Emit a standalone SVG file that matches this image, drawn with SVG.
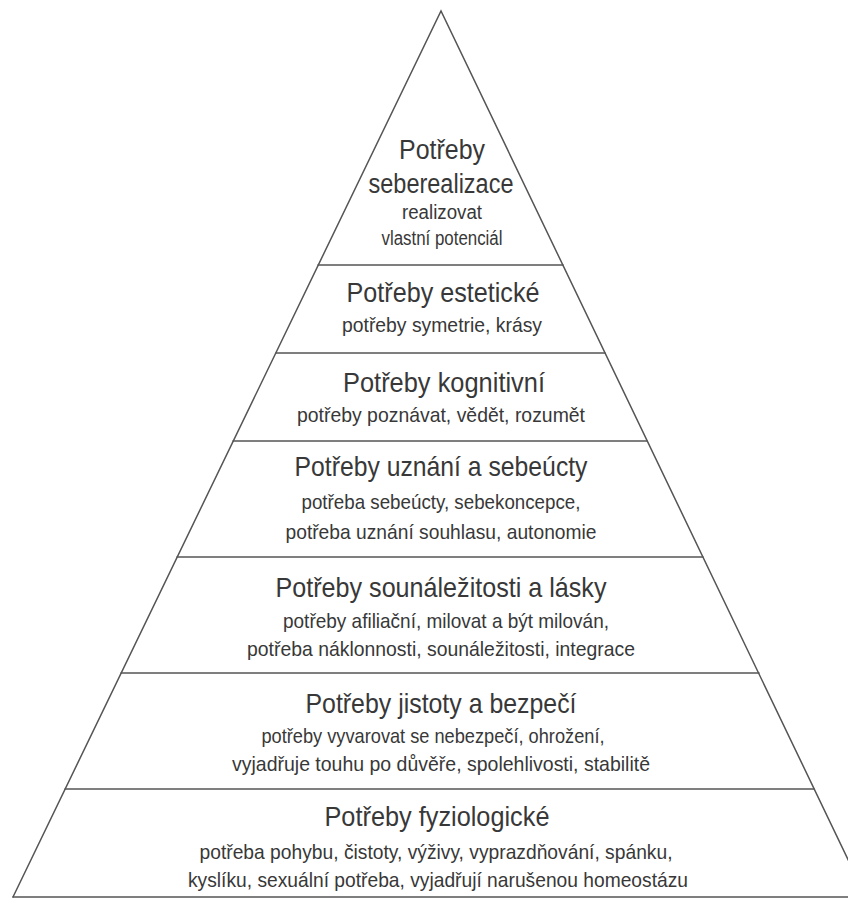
<svg xmlns="http://www.w3.org/2000/svg" width="848" height="899" viewBox="0 0 848 899">
<style>
.ln{stroke:#555;stroke-width:1.5;fill:none;stroke-linecap:round}
text{font-family:"Liberation Sans",Arial,sans-serif;fill:#383838;text-anchor:middle}
.t{font-size:28px}
.s{font-size:21px}
.tt{font-size:27px}
.ss{font-size:20px}
</style>
<rect width="848" height="899" fill="#fff"/>
<g id="pyramid-outline">
<path class="ln" d="M13,897 L441,11 L866,897"/>
<line class="ln" x1="318" y1="265" x2="563" y2="265"/>
<line class="ln" x1="276" y1="353" x2="605" y2="353"/>
<line class="ln" x1="233" y1="441" x2="647" y2="441"/>
<line class="ln" x1="177" y1="557" x2="703" y2="557"/>
<line class="ln" x1="121" y1="673" x2="759" y2="673"/>
<line class="ln" x1="65" y1="789" x2="814" y2="789"/>
<line class="ln" x1="13" y1="897" x2="848" y2="897"/>
</g>
<g id="tier-seberealizace">
<text class="tt" x="442" y="159" textLength="86" lengthAdjust="spacingAndGlyphs">Potřeby</text>
<text class="tt" x="441" y="193" textLength="145" lengthAdjust="spacingAndGlyphs">seberealizace</text>
<text class="ss" x="442" y="219" textLength="80" lengthAdjust="spacingAndGlyphs">realizovat</text>
<text class="ss" x="442" y="245" textLength="121" lengthAdjust="spacingAndGlyphs">vlastní potenciál</text>
</g>
<g id="tier-esteticke">
<text class="t" x="443" y="302" textLength="193" lengthAdjust="spacingAndGlyphs">Potřeby estetické</text>
<text class="s" x="442" y="332" textLength="200" lengthAdjust="spacingAndGlyphs">potřeby symetrie, krásy</text>
</g>
<g id="tier-kognitivni">
<text class="t" x="444" y="392" textLength="202" lengthAdjust="spacingAndGlyphs">Potřeby kognitivní</text>
<text class="s" x="441" y="422" textLength="288" lengthAdjust="spacingAndGlyphs">potřeby poznávat, vědět, rozumět</text>
</g>
<g id="tier-uznani">
<text class="t" x="441" y="476" textLength="293" lengthAdjust="spacingAndGlyphs">Potřeby uznání a sebeúcty</text>
<text class="s" x="441" y="509" textLength="279" lengthAdjust="spacingAndGlyphs">potřeba sebeúcty, sebekoncepce,</text>
<text class="s" x="441" y="539" textLength="311" lengthAdjust="spacingAndGlyphs">potřeba uznání souhlasu, autonomie</text>
</g>
<g id="tier-sounalezitost">
<text class="t" x="441" y="597" textLength="331" lengthAdjust="spacingAndGlyphs">Potřeby sounáležitosti a lásky</text>
<text class="s" x="446" y="628" textLength="326" lengthAdjust="spacingAndGlyphs">potřeby afiliační, milovat a být milován,</text>
<text class="s" x="441" y="656" textLength="388" lengthAdjust="spacingAndGlyphs">potřeba náklonnosti, sounáležitosti, integrace</text>
</g>
<g id="tier-jistota">
<text class="t" x="441" y="713" textLength="271" lengthAdjust="spacingAndGlyphs">Potřeby jistoty a bezpečí</text>
<text class="s" x="433" y="743" textLength="343" lengthAdjust="spacingAndGlyphs">potřeby vyvarovat se nebezpečí, ohrožení,</text>
<text class="s" x="441" y="771" textLength="418" lengthAdjust="spacingAndGlyphs">vyjadřuje touhu po důvěře, spolehlivosti, stabilitě</text>
</g>
<g id="tier-fyziologicke">
<text class="t" x="437" y="826" textLength="225" lengthAdjust="spacingAndGlyphs">Potřeby fyziologické</text>
<text class="s" x="436" y="859" textLength="473" lengthAdjust="spacingAndGlyphs">potřeba pohybu, čistoty, výživy, vyprazdňování, spánku,</text>
<text class="s" x="438" y="887" textLength="500" lengthAdjust="spacingAndGlyphs">kyslíku, sexuální potřeba, vyjadřují narušenou homeostázu</text>
</g>
</svg>
